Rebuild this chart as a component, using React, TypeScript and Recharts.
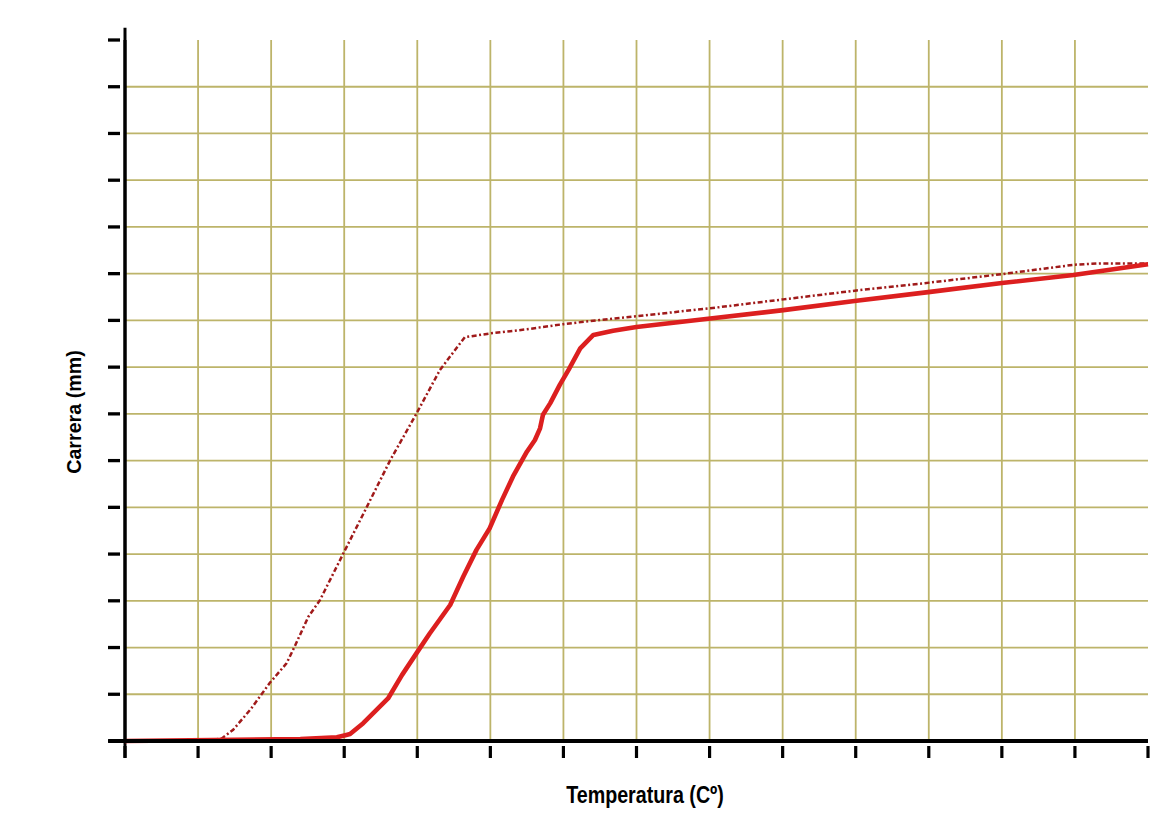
import { CartesianGrid, Line, LineChart, ReferenceLine, XAxis, YAxis } from 'recharts'

// temperature ticks (unlabelled in the original) and stroke ticks
const xTicks = [0, 1, 2, 3, 4, 5, 6, 7, 8, 9, 10, 11, 12, 13, 14]
const yTicks = [0, 1, 2, 3, 4, 5, 6, 7, 8, 9, 10, 11, 12, 13, 14, 15]
// grid skips the right and top edges
const xGridTicks = xTicks.slice(0, -1)
const yGridTicks = yTicks.slice(0, -1)

// dash-dot curve
const refTemp = [
  0, 1.16, 1.33, 1.48, 1.72, 1.98, 2.21, 2.33, 2.51, 2.67, 2.99, 3.31, 3.63, 3.99, 4.31, 4.65,
  4.99, 5.5, 6.0, 6.5, 7.0, 8.01, 9.01, 10.01, 11.02, 12.0, 12.98, 13.34, 14.0,
]
const refStroke = [
  0, 0, 0.06, 0.24, 0.68, 1.24, 1.66, 2.05, 2.66, 3.02, 4.02, 5.01, 6.01, 7.01, 7.94, 8.64,
  8.72, 8.81, 8.92, 9.01, 9.09, 9.26, 9.45, 9.64, 9.81, 9.99, 10.19, 10.22, 10.22,
]

// solid curve
const testTemp = [
  0, 2.4, 2.9, 3.03, 3.08, 3.26, 3.6, 3.79, 3.99, 4.17, 4.45, 4.63, 4.81, 4.99, 5.16, 5.31, 5.5,
  5.61, 5.68, 5.72, 5.82, 5.95, 6.07, 6.23, 6.41, 6.68, 7.0, 8.01, 9.01, 10.01, 11.02, 12.0,
  12.98, 14.0,
]
const testStroke = [
  0, 0.04, 0.08, 0.13, 0.15, 0.38, 0.91, 1.41, 1.88, 2.3, 2.91, 3.52, 4.09, 4.55, 5.16, 5.66,
  6.19, 6.44, 6.69, 6.98, 7.23, 7.62, 7.94, 8.4, 8.69, 8.78, 8.86, 9.04, 9.22, 9.42, 9.61, 9.8,
  9.97, 10.2,
]

const refData = refTemp.map((t, i) => ({ t, v: refStroke[i] }))
const testData = testTemp.map((t, i) => ({ t, v: testStroke[i] }))

const gridColor = '#bdb46a'
const labelFont = "'Liberation Sans', Arial, sans-serif"
const noLabel = () => <g />

export default function App() {
  return (
    <div style={{ position: 'absolute', left: 0, top: 0, width: 1154, height: 835, background: '#fff' }}>
      <LineChart width={1154} height={835} margin={{ top: 40, right: 6, bottom: 34, left: 65 }}>
        <CartesianGrid
          stroke={gridColor}
          strokeWidth={1.8}
          verticalValues={xGridTicks}
          horizontalValues={yGridTicks}
        />
        <XAxis
          type="number"
          dataKey="t"
          domain={[0, 14]}
          ticks={xTicks}
          interval={0}
          height={60}
          tick={noLabel}
          tickSize={17}
          tickLine={{ stroke: '#000', strokeWidth: 3.2, strokeDasharray: '12 6' }}
          axisLine={{ stroke: '#000', strokeWidth: 4 }}
        />
        <YAxis
          type="number"
          domain={[0, 15]}
          ticks={yTicks}
          interval={0}
          width={60}
          tick={noLabel}
          tickSize={17}
          tickLine={{ stroke: '#000', strokeWidth: 3.3, strokeDasharray: '12 5' }}
          axisLine={{ stroke: '#000', strokeWidth: 3 }}
        />
        <ReferenceLine
          segment={[{ x: 0, y: -0.36 }, { x: 0, y: 15.26 }]}
          ifOverflow="visible"
          stroke="#000"
          strokeWidth={3}
        />
        <ReferenceLine
          segment={[{ x: -0.23, y: 0 }, { x: 14, y: 0 }]}
          ifOverflow="visible"
          stroke="#000"
          strokeWidth={4}
        />
        <Line
          data={refData}
          dataKey="v"
          type="linear"
          stroke="#a01a1a"
          strokeWidth={2.5}
          strokeDasharray="5 2.5 2 2.5"
          dot={false}
          isAnimationActive={false}
        />
        <Line
          data={testData}
          dataKey="v"
          type="linear"
          stroke="#dc1f1f"
          strokeWidth={4.6}
          strokeLinejoin="round"
          dot={false}
          isAnimationActive={false}
        />
      </LineChart>
      <div
        style={{
          position: 'absolute',
          left: 545,
          width: 200,
          top: 783,
          textAlign: 'center',
          fontFamily: labelFont,
          fontWeight: 700,
          fontSize: 24,
          lineHeight: '24px',
          color: '#000',
          transform: 'scaleX(0.82)',
          whiteSpace: 'nowrap',
        }}
      >
        Temperatura (Cº)
      </div>
      <div
        style={{
          position: 'absolute',
          left: 73.5,
          top: 412,
          width: 200,
          textAlign: 'center',
          transform: 'translate(-50%, -50%) rotate(-90deg) scaleX(0.96)',
          fontFamily: labelFont,
          fontWeight: 700,
          fontSize: 20.5,
          lineHeight: '20.5px',
          color: '#000',
          whiteSpace: 'nowrap',
        }}
      >
        Carrera (mm)
      </div>
    </div>
  )
}
